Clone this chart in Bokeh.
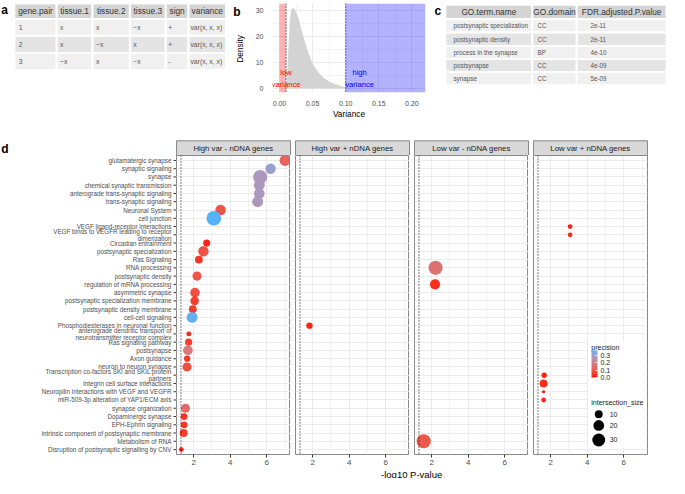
import numpy as np
from bokeh.plotting import figure
from bokeh.models import (Range1d, FactorRange, FixedTicker, Span, ColorBar, LinearColorMapper,
                          PrintfTickFormatter, ColumnDataSource, BoxAnnotation, AllLabels)
from bokeh.layouts import column, row
from bokeh.embed import file_html
from bokeh.resources import INLINE
from bokeh.core.properties import value

FONT = "Liberation Sans"

# ---------------- data ----------------
# panel a
a_columns = ["gene.pair", "tissue.1", "tissue.2", "tissue.3", "sign", "variance"]
a_gene_pair = ["1", "2", "3"]
a_tissue_1 = ["x", "x", "\u2212x"]
a_tissue_2 = ["x", "\u2212x", "x"]
a_tissue_3 = ["\u2212x", "x", "\u2212x"]
a_sign = ["+", "+", "-"]
a_variance = ["var(x, x, x)", "var(x, x, x)", "var(x, x, x)"]

# panel b
b_variance = [0.0100, 0.0110, 0.0130, 0.0155, 0.0178, 0.0200, 0.0220, 0.0250, 0.0294, 0.0340,
              0.0388, 0.0434, 0.0480, 0.0528, 0.0600, 0.0668, 0.0762, 0.0854, 0.0970, 0.1100,
              0.1250, 0.1400]
b_density = [0.0, 1.0, 13.0, 26.0, 30.2, 31.2, 30.8, 29.6, 26.5, 22.0,
             17.7, 14.0, 10.9, 8.4, 5.9, 4.0, 2.5, 1.5, 0.6, 0.25,
             0.08, 0.0]
b_low_cut = 0.01
b_high_cut = 0.10
b_x_ticks = [0.0, 0.05, 0.10, 0.15, 0.20]
b_y_ticks = [0, 10, 20, 30]

# panel c
c_columns = ["GO.term.name", "GO.domain", "FDR.adjusted.P.value"]
c_term = ["postsynaptic specialization", "postsynaptic density", "process in the synapse",
          "postsynapse", "synapse"]
c_domain = ["CC", "CC", "BP", "CC", "CC"]
c_fdr = ["2e-11", "2e-11", "4e-10", "4e-09", "5e-09"]

# panel d
d_terms = [
    "glutamatergic synapse", "synaptic signaling", "synapse", "chemical synaptic transmission",
    "anterograde trans-synaptic signaling", "trans-synaptic signaling", "Neuronal System",
    "cell junction", "VEGF ligand-receptor interactions",
    "VEGF binds to VEGFR leading to receptor\ndimerization", "Circadian entrainment",
    "postsynaptic specialization", "Ras Signaling", "RNA processing", "postsynaptic density",
    "regulation of mRNA processing", "asymmetric synapse", "postsynaptic specialization membrane",
    "postsynaptic density membrane", "cell-cell signaling", "Phosphodiesterases in neuronal function",
    "anterograde dendritic transport of\nneurotransmitter receptor complex", "Ras signaling pathway",
    "postsynapse", "Axon guidance", "neuron to neuron synapse",
    "Transcription co-factors SKI and SKIL protein\npartners", "Integrin cell surface interactions",
    "Neuropilin interactions with VEGF and VEGFR", "miR-509-3p alteration of YAP1/ECM axis",
    "synapse organization", "Dopaminergic synapse", "EPH-Ephrin signaling",
    "intrinsic component of postsynaptic membrane", "Metabolism of RNA",
    "Disruption of postsynaptic signalling by CNV",
]
d_facets = ["High var - nDNA genes", "High var + nDNA genes", "Low var - nDNA genes", "Low var + nDNA genes"]

hvm_term = ["glutamatergic synapse", "synaptic signaling", "synapse", "chemical synaptic transmission",
            "anterograde trans-synaptic signaling", "trans-synaptic signaling", "Neuronal System",
            "cell junction", "Circadian entrainment", "postsynaptic specialization", "Ras Signaling",
            "postsynaptic density", "asymmetric synapse", "postsynaptic specialization membrane",
            "postsynaptic density membrane", "cell-cell signaling",
            "anterograde dendritic transport of\nneurotransmitter receptor complex", "Ras signaling pathway",
            "postsynapse", "Axon guidance", "neuron to neuron synapse", "synapse organization",
            "Dopaminergic synapse", "EPH-Ephrin signaling", "intrinsic component of postsynaptic membrane",
            "Disruption of postsynaptic signalling by CNV"]
hvm_logp = [7.00, 6.21, 5.64, 5.59, 5.59, 5.50, 3.47, 3.10, 2.71, 2.53, 2.28, 2.18, 2.07, 2.05,
            1.95, 1.91, 1.73, 1.72, 1.68, 1.64, 1.63, 1.55, 1.47, 1.47, 1.45, 1.32]
hvm_precision = [0.13, 0.31, 0.28, 0.28, 0.28, 0.28, 0.09, 0.37, 0.02, 0.09, 0.04, 0.09, 0.09, 0.05,
                 0.05, 0.36, 0.02, 0.05, 0.18, 0.04, 0.08, 0.15, 0.04, 0.04, 0.05, 0.02]
hvm_size = [21, 19, 37, 21, 20, 21, 19, 40, 8, 19, 10, 14, 16, 12, 10, 21, 3, 8, 16, 6, 14, 14, 7, 7, 10, 3]

hvp_term = ["Phosphodiesterases in neuronal function"]
hvp_logp = [1.82]
hvp_precision = [0.02]
hvp_size = [6]

lvm_term = ["RNA processing", "regulation of mRNA processing", "Metabolism of RNA"]
lvm_logp = [2.21, 2.18, 1.56]
lvm_precision = [0.16, 0.03, 0.10]
lvm_size = [37, 18, 37]

lvp_term = ["VEGF ligand-receptor interactions", "VEGF binds to VEGFR leading to receptor\ndimerization",
            "Transcription co-factors SKI and SKIL protein\npartners", "Integrin cell surface interactions",
            "Neuropilin interactions with VEGF and VEGFR", "miR-509-3p alteration of YAP1/ECM axis"]
lvp_logp = [3.06, 3.06, 1.64, 1.61, 1.61, 1.61]
lvp_precision = [0.02, 0.02, 0.02, 0.03, 0.01, 0.02]
lvp_size = [3, 3, 4, 10, 1, 3]

d_pval_cut = 0.05
d_x_ticks = [2, 4, 6]
precision_ticks = [0.0, 0.1, 0.2, 0.3]
size_breaks = [10, 20, 30]

# ---------------- helpers ----------------
W, H = 669, 478
SX, SY = W / 685.0, H / 494.0
TOP_H = 136
TOP_FT, TOP_FB = 3, 92          # frame top / bottom of the top row (all three figures aligned)
STRIP_H = 19
FACET_H = 312
FACET_FB = 12
TITLE_H = H - TOP_H - STRIP_H - FACET_H

_M = np.array([[0.4124564, 0.3575761, 0.1804375],
               [0.2126729, 0.7151522, 0.0721750],
               [0.0193339, 0.1191920, 0.9503041]])
_WHITE = np.array([0.95047, 1.0, 1.08883])


def _to_lab(h):
    rgb = np.array([int(h[i:i + 2], 16) for i in (1, 3, 5)]) / 255.0
    lin = np.where(rgb <= 0.04045, rgb / 12.92, ((rgb + 0.055) / 1.055) ** 2.4)
    xyz = (_M @ lin) / _WHITE
    d = 6 / 29
    f = np.where(xyz > d ** 3, np.cbrt(xyz), xyz / (3 * d * d) + 4 / 29)
    return np.array([116 * f[1] - 16, 500 * (f[0] - f[1]), 200 * (f[1] - f[2])])


def _from_lab(lab):
    L, a, b = lab
    fy = (L + 16) / 116
    f = np.array([fy + a / 500, fy, fy - b / 200])
    d = 6 / 29
    xyz = np.where(f > d, f ** 3, 3 * d * d * (f - 4 / 29)) * _WHITE
    lin = np.linalg.inv(_M) @ xyz
    rgb = np.where(lin <= 0.0031308, 12.92 * lin, 1.055 * np.clip(lin, 0, None) ** (1 / 2.4) - 0.055)
    rgb = np.clip(np.round(rgb * 255), 0, 255).astype(int)
    return "#%02x%02x%02x" % tuple(rgb)


lab_lo, lab_hi = _to_lab("#ff0000"), _to_lab("#56b1f7")
palette = [_from_lab(lab_lo + t * (lab_hi - lab_lo)) for t in np.linspace(0, 1, 256)]
mapper = LinearColorMapper(palette=palette, low=0.0, high=0.37)


def size_px(v):
    return list(1.04 + 2.16 * np.sqrt(np.asarray(v, dtype=float)))


def canvas_fig(left, width, top, height, ftop=None, fbot=None):
    ftop = top if ftop is None else ftop
    fbot = top + height if fbot is None else fbot
    p = figure(width=width, height=height,
               x_range=Range1d(left / SX, (left + width) / SX),
               y_range=Range1d(fbot / SY, ftop / SY),
               x_axis_location=None, y_axis_location=None,
               min_border_left=0, min_border_right=0,
               min_border_top=ftop - top, min_border_bottom=top + height - fbot,
               output_backend="svg", toolbar_location=None)
    p.grid.visible = False
    p.outline_line_color = None
    return p


def draw_table(p, col_b, row_b, header, cols, hfill, rfills, hsize, bsize, pads):
    nc = len(header)
    nr = len(cols[0])
    p.quad(left=col_b[:-1], right=col_b[1:], top=[row_b[0]] * nc, bottom=[row_b[1]] * nc,
           fill_color=hfill, line_color="white", line_width=2)
    p.text(x=[(col_b[i] + col_b[i + 1]) / 2 for i in range(nc)], y=[(row_b[0] + row_b[1]) / 2] * nc,
           text=header, text_align="center", text_baseline="middle", text_font=value(FONT),
           text_font_size=hsize, text_color="#333333")
    L, R, T, B, F, TX, TY, TT = [], [], [], [], [], [], [], []
    for r in range(nr):
        for c in range(nc):
            L.append(col_b[c]); R.append(col_b[c + 1])
            T.append(row_b[r + 1]); B.append(row_b[r + 2]); F.append(rfills[r % 2])
            TX.append(col_b[c] + pads[c]); TY.append((row_b[r + 1] + row_b[r + 2]) / 2)
            TT.append(cols[c][r])
    p.quad(left=L, right=R, top=T, bottom=B, fill_color=F, line_color="white", line_width=2)
    p.text(x=TX, y=TY, text=TT, text_align="left", text_baseline="middle", text_font=value(FONT),
           text_font_size=bsize, text_color="#555555")


def panel_letter(p, x, y, t):
    p.text(x=[x], y=[y], text=[t], text_align="left", text_baseline="alphabetic",
           text_font=value(FONT), text_font_style="bold", text_font_size="12px", text_color="black")


# ---------------- panel a (also holds the "b" letter and the density axis title) ----------------
A_W = 252
pa = canvas_fig(0, A_W, 0, TOP_H, TOP_FT, TOP_FB)
draw_table(pa, [14.2, 57.5, 94.2, 132.5, 169.2, 192.5, 231.0], [3.2, 19.2, 36.5, 54.2, 71.9],
           a_columns, [a_gene_pair, a_tissue_1, a_tissue_2, a_tissue_3, a_sign, a_variance],
           "#d4d4d4", ["#f0f0f0", "#e4e4e4"], "8.3px", "6.8px", [4.5, 3.5, 3.5, 3.5, 2.5, 2.0])
panel_letter(pa, 0.7, 9.6, "a")
panel_letter(pa, 238.3, 11.8, "b")
pa.text(x=[245.0], y=[50.0], text=["Density"], angle=np.pi / 2, text_align="center",
        text_baseline="middle", text_font=value(FONT), text_font_size="8.3px", text_color="black")

# ---------------- panel b ----------------
B_W = 175
pb = figure(width=B_W, height=TOP_H, x_range=Range1d(-0.0105, 0.2205), y_range=Range1d(-1.56, 32.76),
            min_border_left=12, min_border_right=2, min_border_top=TOP_FT, min_border_bottom=TOP_H - TOP_FB,
            x_axis_label="Variance", output_backend="svg", toolbar_location=None)
pb.varea(x=b_variance, y1=[0] * len(b_variance), y2=b_density, fill_color="#d3d3d3")
pb.add_layout(BoxAnnotation(left=0.0, right=b_low_cut, fill_color="red", fill_alpha=0.3, line_color=None))
pb.add_layout(BoxAnnotation(left=b_high_cut, fill_color="blue", fill_alpha=0.3, line_color=None))
for cut in (b_low_cut, b_high_cut):
    pb.add_layout(Span(location=cut, dimension="height", line_color="black", line_width=1, line_dash="1 2"))
pb.text(x=[b_low_cut, b_high_cut + 0.021], y=[3.85, 3.85], text=["low\nvariance", "high\nvariance"],
        text_color=["red", "blue"], text_align="center", text_baseline="middle",
        text_font=value(FONT), text_font_size="7.6px", text_line_height=1.4)
pb.xaxis.ticker = FixedTicker(ticks=b_x_ticks, minor_ticks=[0.025, 0.075, 0.125, 0.175])
pb.xaxis.formatter = PrintfTickFormatter(format="%.2f")
pb.yaxis.ticker = FixedTicker(ticks=b_y_ticks, minor_ticks=[5, 15, 25])
for ax in (pb.xaxis[0], pb.yaxis[0]):
    ax.axis_line_color = None
    ax.major_tick_line_color = None
    ax.minor_tick_line_color = None
    ax.major_label_text_font = FONT
    ax.major_label_text_font_size = "7px"
    ax.major_label_text_color = "#4d4d4d"
    ax.axis_label_text_font = FONT
    ax.axis_label_text_font_size = "8.3px"
    ax.axis_label_text_font_style = "normal"
    ax.axis_label_text_color = "black"
pb.xaxis.major_label_standoff = 2
pb.xaxis.axis_label_standoff = 0
pb.yaxis.major_label_standoff = 3
for g in (pb.xgrid[0], pb.ygrid[0]):
    g.grid_line_color = "#ebebeb"
    g.minor_grid_line_color = "#f4f4f4"
pb.outline_line_color = None

# ---------------- panel c ----------------
C_LEFT = A_W + B_W
pc = canvas_fig(C_LEFT, W - C_LEFT, 0, TOP_H, TOP_FT, TOP_FB)
draw_table(pc, [455.5, 544.5, 590.0, 682.0], [4.5, 19.5, 33.0, 47.0, 60.5, 74.0, 87.5],
           c_columns, [c_term, c_domain, c_fdr], "#d4d4d4", ["#f0f0f0", "#e4e4e4"],
           "8.3px", "6.3px", [8.3, 5.3, 14.0])
panel_letter(pc, 444.5, 10.5, "c")

# ---------------- panel d ----------------
LABEL_W = 176
FRAME_W = 114
FL = [176, 295, 414, 533]
ML = [0, 5, 5, 5]
MR = [0, 0, 0, W - (FL[3] + FRAME_W)]

strip = canvas_fig(0, W, TOP_H, STRIP_H)
strip.quad(left=[f / SX for f in FL], right=[(f + FRAME_W) / SX for f in FL],
           top=[145.0] * 4, bottom=[(TOP_H + STRIP_H) / SY] * 4,
           fill_color="#d9d9d9", line_color="#888888", line_width=1)
strip.text(x=[(f + FRAME_W / 2) / SX for f in FL], y=[152.6] * 4, text=d_facets, text_align="center",
           text_baseline="middle", text_font=value(FONT), text_font_size="7.8px", text_color="#1a1a1a")
panel_letter(strip, 0.7, 153.3, "d")

yr = FactorRange(factors=list(reversed(d_terms)), range_padding=0.1, range_padding_units="absolute")
xr = Range1d(1.056, 7.3)

# term labels (y axis of the facet grid), drawn so that two-line labels are centred on their tick
lab = figure(width=LABEL_W, height=FACET_H, x_range=Range1d(0, LABEL_W), y_range=yr,
             x_axis_location=None, y_axis_location=None, min_border_left=0, min_border_right=0,
             min_border_top=0, min_border_bottom=FACET_FB, output_backend="svg", toolbar_location=None)
lab.grid.visible = False
lab.outline_line_color = None
lab.text(x=[LABEL_W - 5] * len(d_terms), y=d_terms, text=d_terms, text_align="right",
         text_baseline="middle", text_font=value(FONT), text_font_size="6.3px",
         text_line_height=1.0, text_color="#4d4d4d")
lab.segment(x0=[LABEL_W - 3] * len(d_terms), x1=[LABEL_W] * len(d_terms), y0=d_terms, y1=d_terms,
            line_color="#333333", line_width=1)

facet_data = [(hvm_term, hvm_logp, hvm_precision, hvm_size),
              (hvp_term, hvp_logp, hvp_precision, hvp_size),
              (lvm_term, lvm_logp, lvm_precision, lvm_size),
              (lvp_term, lvp_logp, lvp_precision, lvp_size)]
facet_figs = []
for i, (t, lp, pr, sz) in enumerate(facet_data):
    p = figure(width=ML[i] + FRAME_W + MR[i], height=FACET_H, x_range=xr, y_range=yr,
               min_border_left=ML[i], min_border_right=MR[i], min_border_top=0, min_border_bottom=FACET_FB,
               y_axis_location=None, output_backend="svg", toolbar_location=None)
    p.xaxis.ticker = FixedTicker(ticks=d_x_ticks, minor_ticks=[1, 3, 5, 7])
    p.xaxis.axis_line_color = None
    p.xaxis.major_tick_line_color = "#333333"
    p.xaxis.major_tick_in = 0
    p.xaxis.major_tick_out = 3
    p.xaxis.minor_tick_line_color = None
    p.xaxis.major_label_standoff = 1
    p.xaxis.major_label_text_font = FONT
    p.xaxis.major_label_text_font_size = "8px"
    p.xaxis.major_label_text_color = "#4d4d4d"
    p.xgrid.grid_line_color = "#ebebeb"
    p.xgrid.minor_grid_line_color = "#f2f2f2"
    p.ygrid.grid_line_color = "#ebebeb"
    p.outline_line_color = "#888888"
    p.outline_line_width = 1
    p.add_layout(Span(location=-np.log10(d_pval_cut), dimension="height", line_color="black",
                      line_width=1, line_dash="1 2"))
    src = ColumnDataSource(dict(x=lp, y=t, precision=pr, size=size_px(sz)))
    p.scatter(x="x", y="y", size="size", source=src,
              fill_color={"field": "precision", "transform": mapper}, line_color=None)
    facet_figs.append(p)

# legend inside last facet
f4 = facet_figs[3]
f4.quad(left=[4.06], right=[7.2], bottom=[0.76], top=[13.6], fill_color="white", line_color=None)
f4.text(x=[4.22, 4.22], y=[12.9, 6.14], text=["precision", "intersection_size"], text_align="left",
        text_baseline="middle", text_font=value(FONT), text_font_size="7px", text_color="#1a1a1a")
f4.scatter(x=[4.63] * 3, y=[4.77, 3.42, 1.66], size=size_px(size_breaks), fill_color="black", line_color=None)
f4.text(x=[5.23] * 3, y=[4.77, 3.42, 1.66], text=[str(s) for s in size_breaks], text_align="left",
        text_baseline="middle", text_font=value(FONT), text_font_size="7px", text_color="#1a1a1a")
cb = ColorBar(color_mapper=mapper, ticker=FixedTicker(ticks=precision_ticks),
              formatter=PrintfTickFormatter(format="%.1f"), orientation="vertical",
              width=6, height=27, location=(58, 77), padding=0, title=None,
              major_label_text_font=FONT, major_label_text_font_size="7px",
              major_label_text_color="#1a1a1a", label_standoff=3, major_label_policy=AllLabels(),
              major_tick_line_color="white", major_tick_in=2, major_tick_out=0,
              bar_line_color=None, background_fill_color=None, border_line_color=None)
f4.add_layout(cb)

title_fig = canvas_fig(0, W, H - TITLE_H, TITLE_H)
title_fig.text(x=[421.0], y=[(H - TITLE_H / 2) / SY], text=["-log10 P-value"], text_align="center",
               text_baseline="middle", text_font=value(FONT), text_font_size="9.5px", text_color="black")

layout = column(row(pa, pb, pc), strip, row(lab, *facet_figs), title_fig)
open("out.html", "w").write(file_html(layout, INLINE))
